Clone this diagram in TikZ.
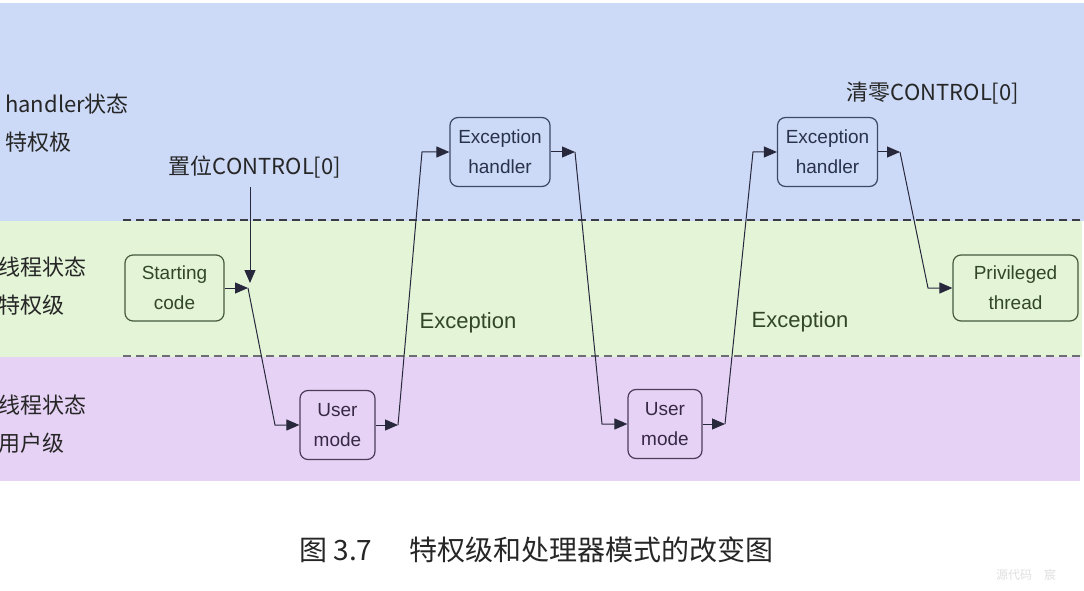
\documentclass[tikz,border=0pt]{standalone}
\usepackage{fontspec}
\setmainfont{Liberation Sans}
\newfontfamily\cjk{Noto Sans CJK SC}
\usetikzlibrary{arrows.meta}
\definecolor{bandblue}{RGB}{205,218,247}
\definecolor{bandgreen}{RGB}{227,244,215}
\definecolor{bandpurple}{RGB}{230,210,244}
\definecolor{linec}{RGB}{40,40,60}
\definecolor{greenbd}{RGB}{70,90,60}
\definecolor{greentx}{RGB}{50,70,40}
\definecolor{bluebd}{RGB}{60,72,100}
\definecolor{bluetx}{RGB}{40,50,75}
\definecolor{purpbd}{RGB}{75,60,90}
\definecolor{purptx}{RGB}{55,40,70}
\definecolor{dashc}{RGB}{60,60,70}
\begin{document}
\begin{tikzpicture}[x=1pt,y=-1pt,
  box/.style={draw,rounded corners=8pt,line width=1.2pt,align=center,inner sep=0pt,
    font=\fontsize{19}{30}\selectfont},
  gbox/.style={box,draw=greenbd,text=greentx},
  bbox/.style={box,draw=bluebd,text=bluetx},
  pbox/.style={box,draw=purpbd,text=purptx},
  conn/.style={draw=linec,line width=1pt,-{Triangle[length=13pt,width=11pt]}},
  sep/.style={draw=dashc,line width=1.6pt,dash pattern=on 8pt off 5pt},
  side/.style={font=\cjk\fontsize{22}{38}\selectfont,align=left,anchor=west,inner sep=0pt,text=black!85},
  excl/.style={font=\fontsize{22}{26}\selectfont,text=greentx,inner sep=0pt},
  ctl/.style={font=\cjk\fontsize{22}{26}\selectfont,text=black!85,inner sep=0pt}]
\useasboundingbox (0,0) rectangle (1084,591);
\fill[white] (0,0) rectangle (1084,591);
% bands
\fill[bandblue] (0,3) rectangle (1084,221);
\fill[bandgreen] (0,221) rectangle (1082,357);
\fill[bandpurple] (0,357) rectangle (1080,481);
\draw[sep] (123,220) -- (1084,220);
\draw[sep,draw=dashc!75] (123,356) -- (1080,356);
% side labels
\node[side] (lh) at (5,123) {handler状态\\特权极};
\node[side] (lt) at (-2,286) {线程状态\\特权级};
\node[side] (lu) at (-2,424) {线程状态\\用户级};
% boxes
\node[gbox,minimum width=99pt,minimum height=66pt] (sc) at (174.5,288) {Starting\\code};
\node[pbox,minimum width=75pt,minimum height=69pt] (um1) at (337.5,425) {User\\mode};
\node[bbox,minimum width=100pt,minimum height=69pt] (eh1) at (500,152) {Exception\\handler};
\node[pbox,minimum width=74pt,minimum height=69pt] (um2) at (665,424) {User\\mode};
\node[bbox,minimum width=100pt,minimum height=69pt] (eh2) at (827.5,152) {Exception\\handler};
\node[gbox,minimum width=125pt,minimum height=66pt] (pt) at (1015.5,288) {Privileged\\thread};
% labels
\node[ctl] (set) at (255,167) {置位CONTROL[0]};
\node[ctl] (clr) at (933,93) {清零CONTROL[0]};
\node[excl] (ex1) at (468,323) {Exception};
\node[excl] (ex2) at (800,322) {Exception};
% coordinates
\coordinate (v0) at (250,187);
\coordinate (v1) at (250,283);
\coordinate (j1) at (248,288);
\coordinate (b1) at (275,425);
\coordinate (j2) at (398,425);
\coordinate (b2) at (422,152);
\coordinate (j3) at (575,152);
\coordinate (b3) at (602,424);
\coordinate (j4) at (725,424);
\coordinate (b4) at (753,152);
\coordinate (j5) at (900,152);
\coordinate (b5) at (928,288);
% connectors
\draw[conn] (v0) -- (v1);
\draw[conn] (sc.east) -- (j1);
\draw[conn] (j1) -- (b1) -- (um1.west);
\draw[conn] (um1.east) -- (j2);
\draw[conn] (j2) -- (b2) -- (eh1.west);
\draw[conn] (eh1.east) -- (j3);
\draw[conn] (j3) -- (b3) -- (um2.west);
\draw[conn] (um2.east) -- (j4);
\draw[conn] (j4) -- (b4) -- (eh2.west);
\draw[conn] (eh2.east) -- (j5);
\draw[conn] (j5) -- (b5) -- (pt.west);
% caption
\node[font=\cjk\fontsize{28}{32}\selectfont,anchor=west,inner sep=0pt,text=black!85] (capn) at (299,550) {图 3.7};
\node[font=\cjk\fontsize{28}{32}\selectfont,anchor=west,inner sep=0pt,text=black!85] (capt) at (409,550) {特权级和处理器模式的改变图};
\node[font=\cjk\fontsize{12}{14}\selectfont,anchor=west,inner sep=0pt,text=black!12] (wm) at (996,575) {源代码\hspace{12pt}宸};
\end{tikzpicture}
\end{document}
